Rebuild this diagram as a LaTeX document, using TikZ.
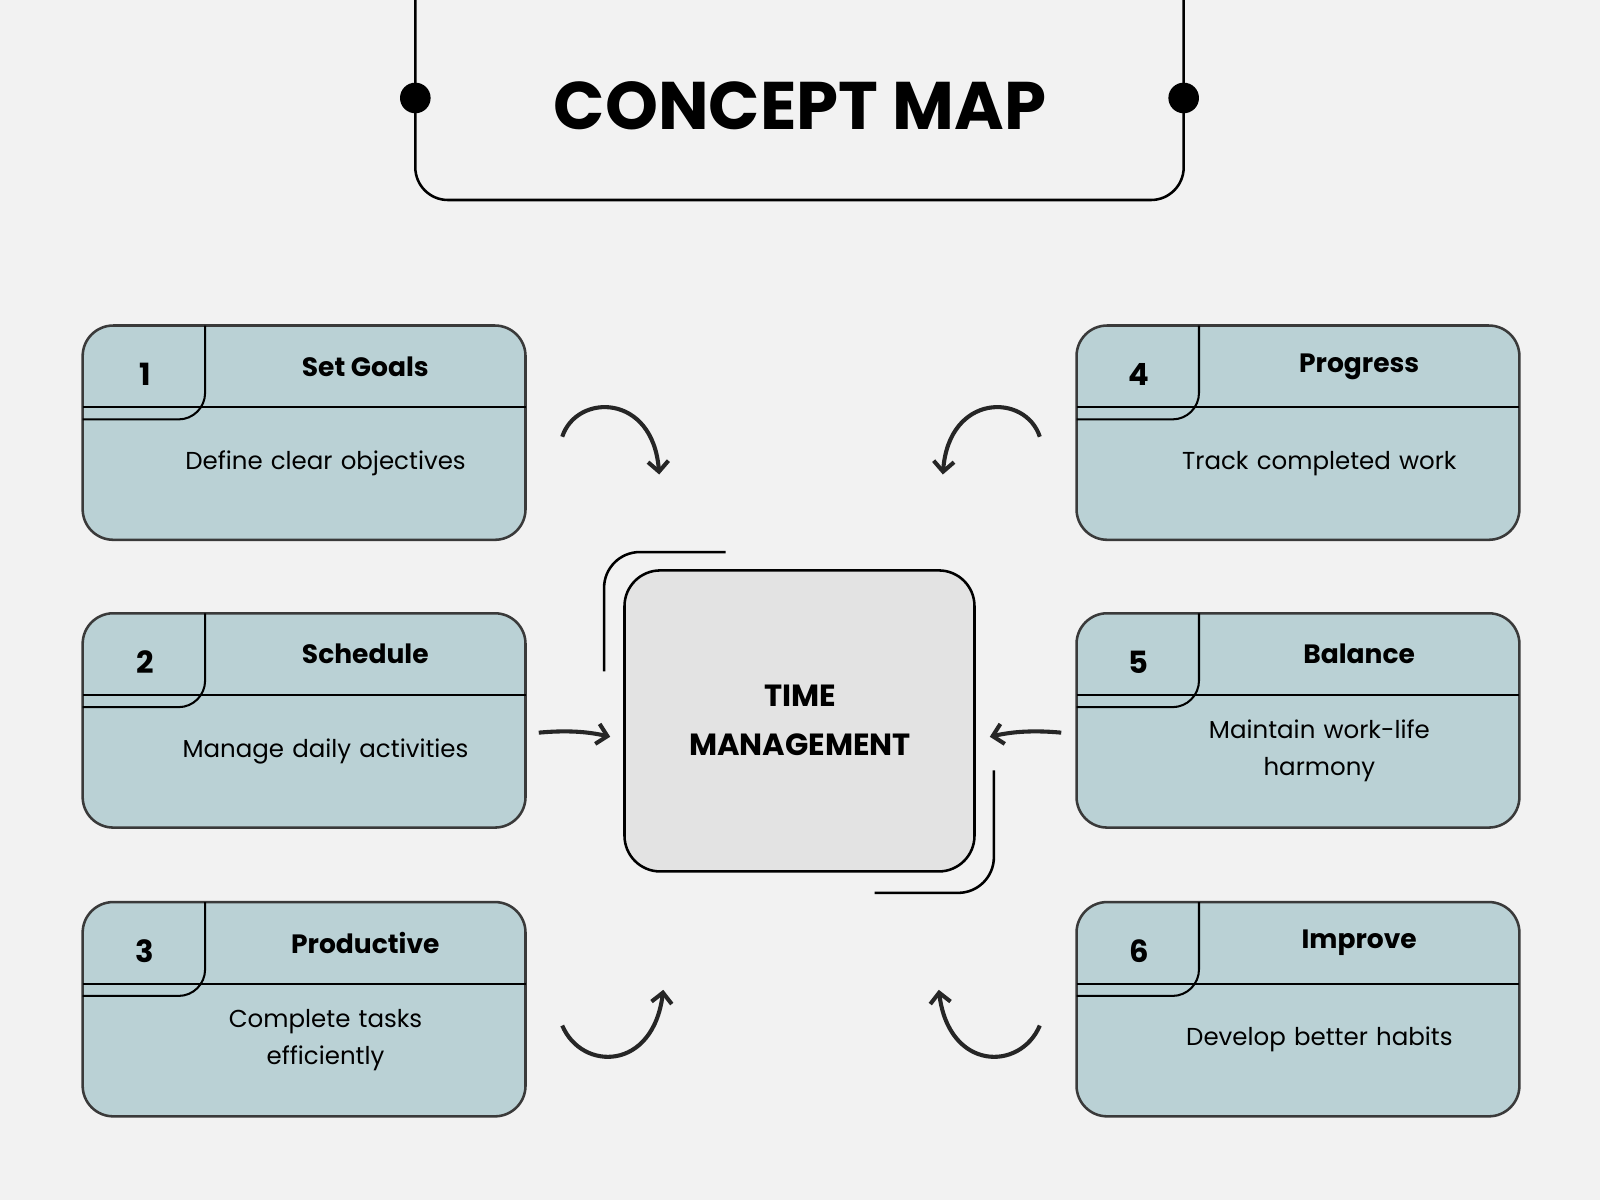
\documentclass[tikz,border=0pt]{standalone}
\usepackage{fontspec}
\setmainfont{Poppins}
\usetikzlibrary{arrows.meta}
\definecolor{bgc}{HTML}{F2F2F2}
\definecolor{boxc}{HTML}{BAD1D5}
\definecolor{midc}{HTML}{E3E3E3}
\definecolor{edgec}{HTML}{3A3A3A}
\tikzset{
  card/.style={draw=edgec, line width=2.5pt, fill=boxc, rounded corners=30pt},
  inner/.style={draw=black, line width=2pt},
  numtxt/.style={font=\fontsize{30}{34}\selectfont\bfseries},
  headtxt/.style={font=\fontsize{26}{30}\selectfont\bfseries},
  desctxt/.style={font=\fontsize{24}{36}\selectfont, align=center, text width=330pt},
  swoosh/.style={line width=4pt, draw=black!85, -{Straight Barb[length=10pt,width=20pt,line width=4pt]}},
}
\begin{document}
\begin{tikzpicture}[x=1pt,y=-1pt]
  % background
  \fill[bgc] (0,0) rectangle (1568,1176);
  \useasboundingbox (0,0) rectangle (1568,1176);

  % title frame
  \draw[line width=2.5pt, rounded corners=32pt] (407,-5) -- (407,196) -- (1160,196) -- (1160,-5);
  \fill (407,96) circle (15);
  \fill (1160,96) circle (15);
  \node[font=\fontsize{66}{70}\selectfont\bfseries] (title) at (784,104) {CONCEPT MAP};

  % cards
  \foreach \i/\x/\y/\num/\head/\desc in {
      1/81/319/1/Set Goals/Define clear objectives,
      2/81/601/2/Schedule/Manage daily activities,
      3/81/884/3/Productive/{Complete tasks\\efficiently},
      4/1055/319/4/Progress/Track completed work,
      5/1055/601/5/Balance/{Maintain work-life\\harmony},
      6/1055/884/6/Improve/Develop better habits} {
    \draw[card] (\x,\y) rectangle ++(434,210);
    \draw[inner] (\x,\y+80) -- ++(434,0);
    \draw[inner, rounded corners=26pt] (\x+120,\y) -- (\x+120,\y+92) -- (\x,\y+92);
    \node[numtxt] (n\i) at (\x+61,\y+48) {\num};
    \node[headtxt] (h\i) at (\x+277,\y+40) {\head};
    \node[desctxt] (d\i) at (\x+238,\y+135) {\desc};
  }

  % centre
  \draw[line width=2.5pt, fill=midc, rounded corners=35pt] (612,559) rectangle (955,854);
  \node[font=\fontsize{30}{48}\selectfont\bfseries, align=center] (tm) at (784,706) {TIME\\MANAGEMENT};
  \draw[line width=2.5pt, rounded corners=35pt] (592,658) -- (592,541) -- (711,541);
  \draw[line width=2.5pt, rounded corners=35pt] (974,755) -- (974,875) -- (857,875);

  % arrows
  \coordinate (a1) at (551,428); \coordinate (e1) at (646,465);
  \coordinate (a4) at (1019,428); \coordinate (e4) at (924,465);
  \coordinate (a3) at (551,1005); \coordinate (e3) at (650,970);
  \coordinate (a6) at (1019,1005); \coordinate (e6) at (920,970);
  \coordinate (a2) at (528,718); \coordinate (e2) at (598,722);
  \coordinate (a5) at (1040,718); \coordinate (e5) at (970,722);
  \draw[swoosh] (a1) .. controls (565,385) and (640,385) .. (e1);
  \draw[swoosh] (a4) .. controls (1005,385) and (930,385) .. (e4);
  \draw[swoosh] (a3) .. controls (570,1050) and (640,1050) .. (e3);
  \draw[swoosh] (a6) .. controls (1000,1050) and (930,1050) .. (e6);
  \draw[swoosh] (a2) .. controls (560,715) and (580,718) .. (e2);
  \draw[swoosh] (a5) .. controls (1008,715) and (988,718) .. (e5);
\end{tikzpicture}
\end{document}
